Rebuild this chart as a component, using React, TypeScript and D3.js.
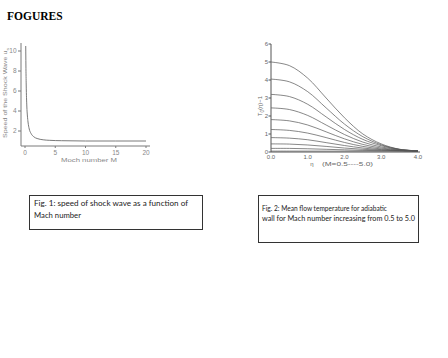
import React from "react";
import * as d3 from "d3";

// Fig. 1 data: shock wave speed vs Mach number
const machNumbers = [0.12, 0.15, 0.2, 0.3, 0.4, 0.5, 0.7, 1, 1.5, 2, 3, 4, 6, 10, 15, 20];
const shockSpeeds = [10.5, 8.6, 6.6, 4.5, 3.5, 2.9, 2.2, 1.75, 1.4, 1.25, 1.12, 1.07, 1.03, 1.0, 1.0, 1.0];
const fig1XTicks = [0, 5, 10, 15, 20];
const fig1YTicks = [2, 4, 6, 8, 10];

// Fig. 2 data: T0(eta)-1 for M = 0.5 ... 5.0
const etaValues = [0, 0.5, 1.0, 1.5, 2.0, 2.5, 3.0, 3.5, 4.0];
const tempM50 = [5.0, 4.8, 4.1, 3.0, 1.9, 1.0, 0.45, 0.15, 0.05];
const tempM45 = [4.05, 3.9, 3.35, 2.45, 1.55, 0.85, 0.4, 0.15, 0.06];
const tempM40 = [3.2, 3.08, 2.65, 1.95, 1.25, 0.7, 0.35, 0.14, 0.06];
const tempM35 = [2.45, 2.36, 2.03, 1.5, 0.97, 0.55, 0.28, 0.13, 0.06];
const tempM30 = [1.8, 1.73, 1.5, 1.12, 0.73, 0.42, 0.22, 0.11, 0.06];
const tempM25 = [1.25, 1.2, 1.05, 0.8, 0.53, 0.31, 0.17, 0.09, 0.05];
const tempM20 = [0.8, 0.77, 0.68, 0.52, 0.36, 0.22, 0.13, 0.08, 0.05];
const tempM15 = [0.45, 0.44, 0.39, 0.31, 0.22, 0.15, 0.1, 0.07, 0.05];
const tempM10 = [0.2, 0.2, 0.18, 0.15, 0.12, 0.09, 0.07, 0.06, 0.05];
const tempM05 = [0.05, 0.05, 0.05, 0.05, 0.05, 0.05, 0.05, 0.05, 0.04];
const fig2XTicks = [0, 1, 2, 3, 4];
const fig2YTicks = [0, 1, 2, 3, 4, 5, 6];

const fig1Caption = ["Fig. 1: speed of shock wave as a function of", "Mach number"];
const fig2Caption = ["Fig. 2: Mean flow temperature for adiabatic", "wall for Mach number increasing from 0.5 to 5.0"];

export default function App() {
  // Fig 1 scales
  const x1 = d3.scaleLinear().domain([0, 20]).range([25, 146]);
  const y1 = d3.scaleLinear().domain([0, 10]).range([151, 51]);
  const line1 = d3
    .line<number>()
    .x((_, i) => x1(machNumbers[i]))
    .y((d) => y1(d))
    .curve(d3.curveMonotoneX);

  // Fig 2 scales
  const x2 = d3.scaleLinear().domain([0, 4]).range([271, 418]);
  const y2 = d3.scaleLinear().domain([0, 6]).range([152, 44]);
  const line2 = d3
    .line<number>()
    .x((_, i) => x2(etaValues[i]))
    .y((d) => y2(d))
    .curve(d3.curveCatmullRom.alpha(0.5));
  const series = [tempM05, tempM10, tempM15, tempM20, tempM25, tempM30, tempM35, tempM40, tempM45, tempM50];

  const c1 = "#7a7a7a";
  const c2 = "#555";
  const tickFont = "Liberation Sans, Arial, sans-serif";
  const capFont = "Lato, 'Open Sans', sans-serif";

  return (
    <svg
      width={448}
      height={358}
      style={{ position: "absolute", left: 0, top: 0, background: "#fff" }}
    >
      <text x={7} y={20} fontFamily="Liberation Serif, serif" fontWeight="bold" fontSize={11.5} fill="#000">
        FOGURES
      </text>

      {/* Fig 1 */}
      <g>
        <line x1={21} y1={43} x2={21} y2={146} stroke={c1} strokeWidth={1} />
        <line x1={21} y1={146} x2={150} y2={146} stroke={c1} strokeWidth={1} />
        {fig1YTicks.map((t) => (
          <g key={"y1" + t}>
            <line x1={18} x2={21} y1={y1(t)} y2={y1(t)} stroke={c1} />
            <text x={16.5} y={y1(t) + 2.2} textAnchor="end" fontFamily={tickFont} fontSize={6.5} fill="#888">
              {t}
            </text>
          </g>
        ))}
        {fig1XTicks.map((t) => (
          <g key={"x1" + t}>
            <line x1={x1(t)} x2={x1(t)} y1={146} y2={148} stroke={c1} />
            <text x={x1(t)} y={154.5} textAnchor="middle" fontFamily={tickFont} fontSize={6.5} fill="#888">
              {t}
            </text>
          </g>
        ))}
        <path d={line1(shockSpeeds) || ""} fill="none" stroke={c1} strokeWidth={1} />
        <text x={89} y={161.5} textAnchor="middle" fontFamily={tickFont} fontSize={6} fill="#888" textLength={56} lengthAdjust="spacingAndGlyphs">
          Moch number M
        </text>
        <text
          transform="translate(7,93) rotate(-90)"
          textAnchor="middle"
          fontFamily={tickFont}
          fontSize={5.5}
          fill="#888"
          textLength={90}
          lengthAdjust="spacingAndGlyphs"
        >
          Speed of the Shock Wave u<tspan dy={1.5} fontSize={4}>s</tspan>
        </text>
      </g>

      {/* Fig 2 */}
      <g>
        <line x1={271} y1={44} x2={271} y2={152} stroke={c2} strokeWidth={1} />
        <line x1={271} y1={152} x2={420} y2={152} stroke={c2} strokeWidth={1} />
        {fig2YTicks.map((t) => (
          <g key={"y2" + t}>
            <line x1={268.5} x2={271} y1={y2(t)} y2={y2(t)} stroke={c2} />
            <text x={268} y={y2(t) + 2} textAnchor="end" fontFamily={tickFont} fontSize={6} fill="#666">
              {t}
            </text>
          </g>
        ))}
        {fig2XTicks.map((t) => (
          <g key={"x2" + t}>
            <text x={x2(t)} y={159} textAnchor="middle" fontFamily={tickFont} fontSize={6} fill="#666">
              {t.toFixed(1)}
            </text>
          </g>
        ))}
        {series.map((s, i) => (
          <path key={"s" + i} d={line2(s) || ""} fill="none" stroke={c2} strokeWidth={0.7} />
        ))}
        <text x={312} y={166} textAnchor="middle" fontFamily={tickFont} fontSize={6} fill="#666">
          η
        </text>
        <text x={322} y={166} fontFamily={tickFont} fontSize={6} fill="#666" textLength={51} lengthAdjust="spacingAndGlyphs">
          (M=0.5----5.0)
        </text>
        <text transform="translate(262,106) rotate(-90)" textAnchor="middle" fontFamily={tickFont} fontSize={6} fill="#666">
          T<tspan dy={1.5} fontSize={4.5}>0</tspan>
          <tspan dy={-1.5}>(η)−1</tspan>
        </text>
      </g>

      {/* Captions */}
      <rect x={29.5} y={195.5} width={173} height={34} fill="none" stroke="#333" strokeWidth={1} />
      <text x={34} y={206} fontFamily={capFont} fontSize={7.5} fill="#222" textLength={154} lengthAdjust="spacingAndGlyphs">
        {fig1Caption[0]}
      </text>
      <text x={34} y={217.5} fontFamily={capFont} fontSize={7.5} fill="#222" textLength={47} lengthAdjust="spacingAndGlyphs">
        {fig1Caption[1]}
      </text>

      <rect x={258.5} y={195.5} width={160} height={47} fill="none" stroke="#333" strokeWidth={1} />
      <text x={262} y={210.5} fontFamily={capFont} fontSize={7.5} fill="#222" textLength={125} lengthAdjust="spacingAndGlyphs">
        {fig2Caption[0]}
      </text>
      <text x={262} y={221} fontFamily={capFont} fontSize={7.5} fill="#222" textLength={153} lengthAdjust="spacingAndGlyphs">
        {fig2Caption[1]}
      </text>
    </svg>
  );
}
